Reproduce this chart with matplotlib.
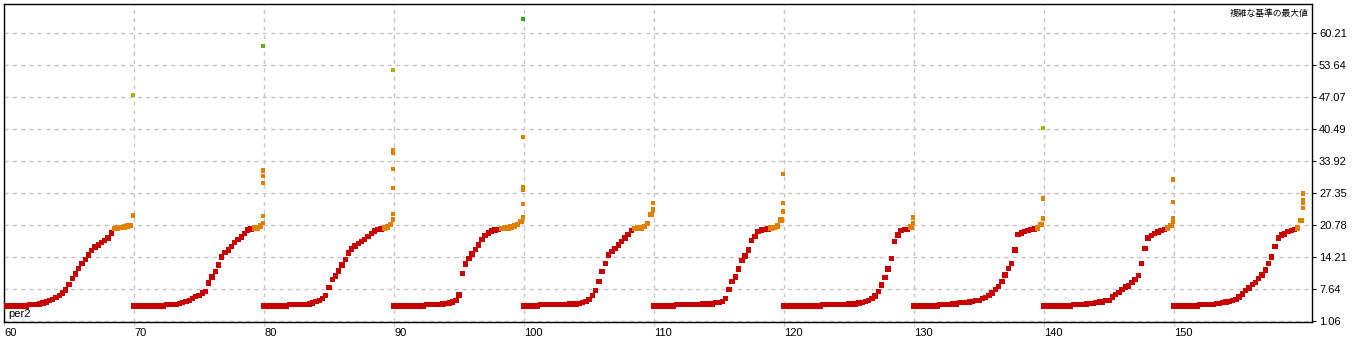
import matplotlib.pyplot as plt
import numpy as np

# per2 groups and the sorted results shown inside each group
per2 = [60, 70, 80, 90, 100, 110, 120, 130, 140, 150]

c60 = [4.21, 4.21, 4.21, 4.21, 4.21, 4.21, 4.21, 4.21, 4.49, 4.49, 4.5, 4.6, 4.8, 5.0, 5.3, 5.6, 6.0, 6.4, 6.9, 7.5,
       8.6, 9.9, 10.8, 11.9, 13.0, 13.8, 14.7, 15.6, 16.3, 16.7, 17.2, 17.6, 18.2, 19.2, 20.1, 20.2, 20.3, 20.4, 20.6, 20.8]
c70 = [4.21, 4.21, 4.21, 4.21, 4.21, 4.21, 4.21, 4.21, 4.21, 4.21, 4.49, 4.49, 4.5, 4.5, 4.7, 4.9, 5.1, 5.4, 5.8, 6.2,
       6.4, 6.9, 7.2, 8.9, 10.2, 11.3, 12.6, 14.3, 15.2, 15.7, 16.4, 17.2, 17.8, 18.4, 19.1, 19.8, 20.0, 20.2, 20.2, 20.6]
c80 = [4.21, 4.21, 4.21, 4.21, 4.21, 4.21, 4.21, 4.21, 4.49, 4.5, 4.5, 4.5, 4.5, 4.5, 4.6, 4.8, 5.1, 5.3, 5.7, 6.4,
       8.0, 9.6, 10.4, 11.4, 12.6, 13.7, 15.1, 15.9, 16.5, 17.0, 17.4, 17.9, 18.5, 19.1, 19.6, 19.9, 20.0, 20.2, 20.4, 21.0]
c90 = [4.21, 4.21, 4.21, 4.21, 4.21, 4.21, 4.21, 4.21, 4.21, 4.21, 4.5, 4.5, 4.5, 4.5, 4.5, 4.6, 4.7, 4.8, 5.0, 5.3,
       6.5, 10.9, 12.8, 13.9, 14.9, 15.8, 16.7, 17.9, 18.7, 19.2, 19.6, 19.8, 19.9, 20.1, 20.2, 20.2, 20.4, 20.6, 20.9, 21.5]
c100 = [4.21, 4.21, 4.21, 4.21, 4.21, 4.5, 4.5, 4.5, 4.5, 4.5, 4.5, 4.5, 4.5, 4.5, 4.6, 4.6, 4.6, 4.7, 4.9, 5.2,
        5.6, 6.4, 7.4, 9.3, 11.3, 13.0, 14.7, 15.4, 16.0, 16.7, 17.4, 18.2, 18.9, 19.7, 20.1, 20.2, 20.2, 20.5, 21.1, 23.0]
c110 = [4.21, 4.21, 4.21, 4.21, 4.21, 4.21, 4.21, 4.5, 4.5, 4.5, 4.5, 4.5, 4.5, 4.5, 4.5, 4.6, 4.6, 4.6, 4.6, 4.9,
        4.9, 5.2, 5.8, 7.6, 9.3, 10.2, 11.8, 13.5, 14.5, 15.7, 17.7, 18.5, 19.5, 19.8, 19.9, 20.0, 20.2, 20.3, 20.6, 21.9]
c120 = [4.21, 4.21, 4.21, 4.21, 4.21, 4.21, 4.21, 4.21, 4.21, 4.21, 4.21, 4.21, 4.5, 4.5, 4.5, 4.5, 4.5, 4.5, 4.5, 4.5,
        4.6, 4.6, 4.6, 4.8, 4.9, 5.1, 5.4, 5.7, 6.3, 7.2, 8.5, 10.1, 11.8, 14.0, 17.4, 18.8, 19.7, 19.9, 19.9, 20.4]
c130 = [4.21, 4.21, 4.21, 4.21, 4.21, 4.21, 4.21, 4.21, 4.5, 4.5, 4.5, 4.5, 4.6, 4.6, 4.9, 4.9, 4.9, 5.0, 5.2, 5.3,
        5.4, 5.7, 6.0, 6.4, 6.9, 7.6, 8.2, 9.2, 10.6, 11.9, 13.0, 15.7, 18.9, 19.2, 19.5, 19.7, 19.9, 20.0, 20.2, 21.0]
c140 = [4.21, 4.21, 4.21, 4.21, 4.21, 4.21, 4.21, 4.21, 4.21, 4.5, 4.5, 4.5, 4.5, 4.6, 4.7, 4.7, 4.9, 5.0, 5.0, 5.3,
        5.4, 6.1, 6.6, 7.0, 7.6, 8.1, 8.3, 9.0, 9.6, 10.5, 12.9, 16.0, 18.2, 18.7, 19.1, 19.4, 19.7, 19.9, 20.2, 20.8]
c150 = [4.21, 4.21, 4.21, 4.21, 4.21, 4.21, 4.21, 4.21, 4.5, 4.5, 4.5, 4.5, 4.5, 4.7, 4.7, 4.9, 5.0, 5.1, 5.3, 5.6,
        6.1, 6.7, 7.4, 7.9, 8.6, 9.1, 9.8, 10.6, 11.6, 12.9, 14.3, 16.4, 18.2, 18.8, 19.0, 19.5, 19.7, 19.9, 20.2, 21.7]

# isolated high results at the right end of each group
o60 = [22.8, 47.5]
o70 = [21.3, 22.7, 29.4, 30.9, 32.0, 57.6]
o80 = [22.0, 23.1, 28.4, 32.3, 35.6, 36.2, 52.6]
o90 = [22.5, 25.1, 28.0, 28.6, 38.9, 63.1]
o100 = [24.0, 25.3]
o110 = [23.6, 25.3, 31.3]
o120 = [21.2, 22.4]
o130 = [22.2, 26.3, 40.7]
o140 = [21.5, 22.2, 25.6, 30.2]
o150 = [24.3, 25.3, 26.0, 27.3]

ytick_vals = [1.06, 7.64, 14.21, 20.78, 27.35, 33.92, 40.49, 47.07, 53.64, 60.21]

curves = [c60, c70, c80, c90, c100, c110, c120, c130, c140, c150]
tops = [o60, o70, o80, o90, o100, o110, o120, o130, o140, o150]


def point_color(v):
    if v < 20.05:
        return '#c80000'
    if v < 39.5:
        return '#e08000'
    if v < 55:
        return '#a8b400'
    if v < 60:
        return '#6cac18'
    return '#20b020'


fig = plt.figure(figsize=(13.56, 3.39), dpi=100)
ax = fig.add_axes([4 / 1356, 17 / 339, 1308 / 1356, 318 / 339])

for g, vals, extra in zip(per2, curves, tops):
    xs = g + np.arange(len(vals)) * 0.25
    ax.scatter(xs, vals, s=15, marker='s', linewidths=0,
               c=[point_color(v) for v in vals], zorder=3)
    xo = np.full(len(extra), g + 9.9)
    ax.scatter(xo, extra, s=10, marker='s', linewidths=0,
               c=[point_color(v) for v in extra], zorder=4)

ax.set_xlim(60, 160.6)
ax.set_ylim(0.93, 66.2)

ax.set_xticks(per2)
ax.set_xticklabels([str(p) for p in per2], ha='left', fontsize=8, family='Liberation Sans')
ax.set_yticks(ytick_vals)
ax.set_yticklabels(['%.2f' % v for v in ytick_vals], fontsize=8, family='Liberation Sans')
ax.yaxis.tick_right()
ax.tick_params(axis='x', length=3, pad=1, color='#c8c8c8')
ax.tick_params(axis='y', length=3, pad=2)

ax.grid(True, color='#c8c8c8', linestyle=(0, (3, 3)), linewidth=1)
ax.set_axisbelow(True)
for sp in ax.spines.values():
    sp.set_color('black')
    sp.set_linewidth(1)

ax.text(0.997, 0.985, '複雑な基準の最大値', transform=ax.transAxes, ha='right', va='top',
        fontsize=6.3, family=['Noto Sans CJK JP', 'DejaVu Sans'])
ax.text(0.003, 0.01, 'per2', transform=ax.transAxes, ha='left', va='bottom',
        fontsize=8, family='Liberation Sans')

fig.savefig('out.png', dpi=100)
